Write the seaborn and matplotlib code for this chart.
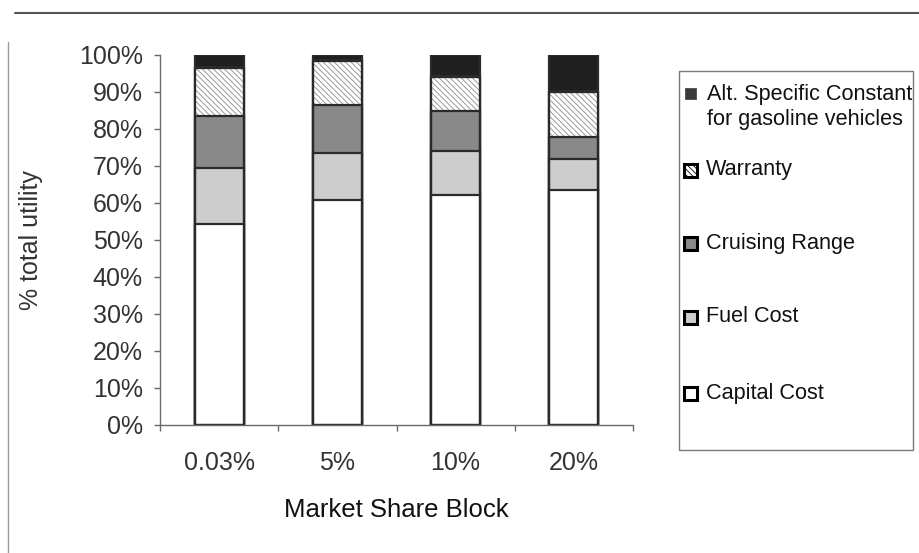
import matplotlib
matplotlib.use("Agg")
import matplotlib.pyplot as plt
import pandas as pd
import seaborn as sns
from matplotlib.patches import Rectangle
from matplotlib.lines import Line2D
from matplotlib.ticker import PercentFormatter, FixedLocator

# Share of total utility (%) per market share block
blocks = ["0.03%", "5%", "10%", "20%"]
capital_cost = [54.4, 60.8, 62.2, 63.5]
fuel_cost = [15.1, 12.6, 11.7, 8.4]
cruising_range = [13.9, 13.1, 11.0, 5.9]
warranty = [12.9, 11.8, 9.1, 12.1]
alt_specific_constant = [3.7, 1.7, 6.0, 10.1]

series_names = ["Capital Cost", "Fuel Cost", "Cruising Range", "Warranty",
                "Alt. Specific Constant\nfor gasoline vehicles"]
series_values = [capital_cost, fuel_cost, cruising_range, warranty, alt_specific_constant]
face_colors = ["#ffffff", "#cdcdcd", "#898989", "#ffffff", "#1f1f1f"]
hatches = [None, None, None, "\\\\\\\\\\\\", None]
EDGE = "#2a2a2a"

sns.set_theme(style="white")
plt.rcParams["font.family"] = ["Liberation Sans", "DejaVu Sans"]
plt.rcParams["hatch.linewidth"] = 0.6

W, H = 919, 553
fig = plt.figure(figsize=(W / 100, H / 100), dpi=100)


def fx(px):
    return px / W


def fy(py):
    return 1 - py / H


ax = fig.add_axes([fx(160), fy(425), fx(633) - fx(160), fy(54.7) - fy(425)])

# Stacked bars: draw running totals from the top segment down
df = pd.DataFrame({"block": blocks})
running = [0.0] * len(blocks)
tops = []
for vals in series_values:
    running = [r + v for r, v in zip(running, vals)]
    tops.append(list(running))

outlined = []
for i in reversed(range(len(series_values))):
    df["top"] = [t / 100 for t in tops[i]]
    n_before = len(ax.patches)
    hatched = hatches[i] is not None
    sns.barplot(data=df, x="block", y="top", color=face_colors[i], saturation=1,
                edgecolor="#8a8a8a" if hatched else EDGE, linewidth=1.6, width=0.415,
                hatch=hatches[i], ax=ax, errorbar=None)
    if hatched:
        outlined.extend(ax.patches[n_before:])

# Dark outline over the hatched layer so the hatch itself stays grey
for p in outlined:
    ax.add_patch(Rectangle((p.get_x(), p.get_y()), p.get_width(), p.get_height(),
                           fill=False, edgecolor=EDGE, lw=1.6, zorder=p.get_zorder()))

ax.set_xlim(-0.5, len(blocks) - 0.5)
ax.set_ylim(0, 1)
ax.set_yticks([i / 10 for i in range(11)])
ax.yaxis.set_major_formatter(PercentFormatter(1.0, decimals=0))

for s in ["top", "right"]:
    ax.spines[s].set_visible(False)
for s in ["left", "bottom"]:
    ax.spines[s].set_color("#6a6a6a")
    ax.spines[s].set_linewidth(1.0)

ax.tick_params(axis="y", which="major", direction="out", length=4.5, width=1,
               color="#6a6a6a", labelsize=18, labelcolor="#333333", pad=8, left=True)
ax.tick_params(axis="x", which="major", length=0, labelsize=18,
               labelcolor="#333333", pad=19)
ax.xaxis.set_minor_locator(FixedLocator([k - 0.5 for k in range(len(blocks) + 1)]))
ax.tick_params(axis="x", which="minor", direction="out", length=4, width=1,
               color="#6a6a6a", bottom=True)

ax.set_xlabel("Market Share Block", fontsize=18.5, color="#111111", labelpad=16)
ax.set_ylabel("% total utility", fontsize=18, color="#333333", labelpad=26)

# Outer frame lines of the chart area
fig.add_artist(Line2D([fx(15), fx(919)], [fy(13), fy(13)], color="#555555", lw=1.5))
fig.add_artist(Line2D([fx(8), fx(8)], [fy(42), fy(553)], color="#9a9a9a", lw=1.0))

# Legend box
fig.add_artist(Rectangle((fx(679), fy(450)), fx(913) - fx(679), fy(71) - fy(450),
                         transform=fig.transFigure, fill=False,
                         edgecolor="#7a7a7a", lw=1.0))

legend_rows = [
    (4, 107),   # Alt. Specific Constant (two lines)
    (3, 170),
    (2, 243),
    (1, 317),
    (0, 393),
]
for idx, yc in legend_rows:
    if idx == 4:
        sq = 11
        fig.add_artist(Rectangle((fx(685), fy(yc - 14 + sq / 2)), fx(sq), fy(0) - fy(sq),
                                 transform=fig.transFigure, facecolor="#3a3a3a",
                                 edgecolor="#3a3a3a", lw=0.5))
        fig.text(fx(707), fy(yc), series_names[idx], fontsize=15.6, color="#111111",
                 va="center", ha="left", linespacing=1.2)
    else:
        sq = 13
        fig.add_artist(Rectangle((fx(684), fy(yc + sq / 2)), fx(sq), fy(0) - fy(sq),
                                 transform=fig.transFigure, facecolor=face_colors[idx],
                                 hatch=hatches[idx], edgecolor="#000000", lw=2.2))
        fig.text(fx(706), fy(yc), series_names[idx], fontsize=15.6, color="#111111",
                 va="center", ha="left")

fig.savefig("out.png", dpi=100, facecolor="white")
